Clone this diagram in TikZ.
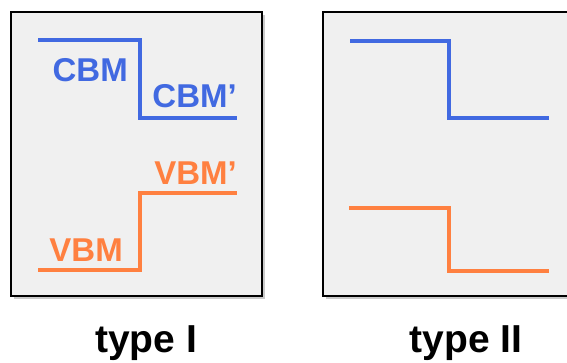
\documentclass[tikz,border=0pt]{standalone}
\usepackage{fontspec}
\setmainfont{Liberation Sans}
\usetikzlibrary{shadows}
\definecolor{cbmblue}{RGB}{65,105,225}
\definecolor{vbmorange}{RGB}{255,128,64}
\definecolor{panelgray}{RGB}{240,240,240}
\tikzset{
  panel/.style={draw=black, line width=2pt, fill=panelgray,
    drop shadow={shadow xshift=3pt, shadow yshift=-3pt, opacity=0.35, fill=black!60}},
  band/.style={line width=4pt, line join=miter},
  bandlabel/.style={inner sep=0pt, anchor=base east, font=\fontsize{33}{40}\selectfont\bfseries},
  typelabel/.style={inner sep=0pt, anchor=base, font=\fontsize{39}{46}\selectfont\bfseries}
}
\begin{document}
\begin{tikzpicture}[x=1pt,y=1pt]
\useasboundingbox (0,0) rectangle (567,363);
\begin{scope}
\clip (0,0) rectangle (567,363);
% panels
\path[panel] (11,67) rectangle (262,351);
\path[panel] (323,67) rectangle (574,351);
\end{scope}
% type I
\draw[band, cbmblue] (38,323) -- (140,323) -- (140,245) -- (237,245);
\draw[band, vbmorange] (38,93) -- (140,93) -- (140,170) -- (237,170);
\node[bandlabel, text=cbmblue] (cbm) at (128,281) {CBM};
\node[bandlabel, text=cbmblue] (cbmp) at (237,255) {CBM’};
\node[bandlabel, text=vbmorange] (vbmp) at (237,178) {VBM’};
\node[bandlabel, text=vbmorange] (vbm) at (123,101) {VBM};
% type II
\draw[band, cbmblue] (350,322) -- (449,322) -- (449,245) -- (549,245);
\draw[band, vbmorange] (349,155) -- (449,155) -- (449,92) -- (549,92);
% captions
\node[typelabel] (t1) at (146,10) {type I};
\node[typelabel] (t2) at (466,10) {type II};
\end{tikzpicture}
\end{document}
